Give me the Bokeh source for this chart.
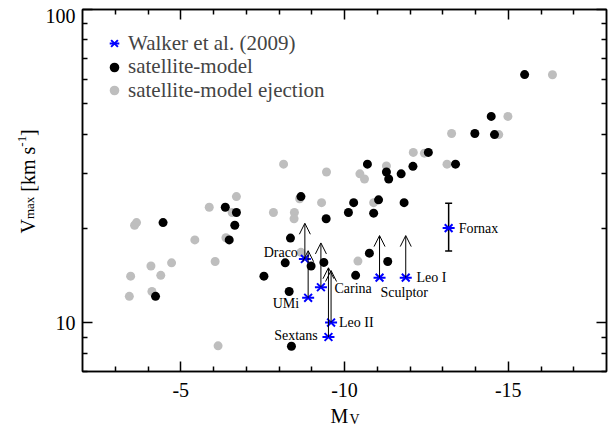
import math
from bokeh.plotting import figure
from bokeh.models import (Range1d, LinearAxis, LogAxis, FixedTicker, Label, Arrow, OpenHead,
                          Whisker, TeeHead, ColumnDataSource, Legend, LegendItem,
                          CustomJSTickFormatter)
from bokeh.core.properties import value
from bokeh.embed import file_html
from bokeh.resources import INLINE

# ---------------- data ----------------
sat_mv = [-15.50, -14.48, -13.98, -14.58, -12.56, -10.70, -13.39, -11.28, -11.35, -11.73,
          -12.09, -10.28, -11.04, -11.82, -10.12, -10.89, -10.76, -11.32, -8.67, -6.36,
          -6.70, -6.65, -4.46, -6.48, -8.35, -9.44, -8.98, -8.19, -9.37, -7.54,
          -8.31, -4.23, -8.38, -10.34]
sat_vmax = [62.0, 45.6, 40.2, 39.9, 35.0, 32.1, 32.1, 30.3, 28.8, 29.9,
            31.6, 24.2, 24.7, 24.2, 22.5, 22.4, 16.7, 15.7, 25.3, 23.4,
            22.5, 20.5, 20.9, 18.4, 18.65, 21.5, 15.2, 15.55, 15.6, 14.1,
            12.6, 12.16, 8.43, 14.19]

ej_mv = [-16.35, -14.99, -13.27, -14.71, -12.10, -12.44, -11.28, -13.13, -10.47, -10.61,
         -8.14, -9.45, -10.89, -6.70, -8.63, -5.87, -6.57, -7.83, -8.47, -8.46,
         -9.30, -3.65, -3.59, -5.43, -6.38, -8.67, -10.41, -6.05, -4.72, -4.09,
         -4.39, -3.47, -3.43, -4.12, -6.14]
ej_vmax = [61.9, 45.6, 40.2, 39.9, 35.0, 34.8, 31.7, 32.1, 29.9, 28.8,
           32.1, 30.3, 24.2, 25.3, 24.9, 23.4, 22.5, 22.5, 22.5, 21.5,
           24.2, 20.9, 20.5, 18.4, 18.7, 16.8, 15.75, 15.7, 15.55, 15.2,
           14.19, 14.1, 12.16, 12.6, 8.45]

dwarf_names = ["Draco", "UMi", "Carina", "Leo II", "Sextans", "Sculptor", "Leo I", "Fornax"]
dwarf_mv = [-8.79, -8.89, -9.28, -9.59, -9.51, -11.07, -11.87, -13.18]
dwarf_vmax = [16.0, 12.03, 13.0, 10.03, 9.02, 13.95, 13.95, 20.07]
# upper arrow tips (Fornax has an error bar instead)
arrow_names = ["Draco", "UMi", "Carina", "Leo II", "Sextans", "Sculptor", "Leo I"]
arrow_tip_vmax = [20.8, 17.0, 18.0, 14.7, 15.0, 19.0, 19.0]
fornax_err_low = [16.95]
fornax_err_high = [24.1]

x_lim = (-2, -18)
y_lim = (7, 100)
x_ticks = [-5, -10, -15]
x_tick_labels = ["-5", "-10", "-15"]
x_minor = [-3, -4, -6, -7, -8, -9, -11, -12, -13, -14, -16, -17]
y_ticks = [10, 100]
y_tick_labels = ["10", "100"]
y_minor = [7, 8, 9, 20, 30, 40, 50, 60, 70, 80, 90]

legend_labels = ["Walker et al. (2009)", "satellite-model", "satellite-model ejection"]

# ---------------- styles ----------------
FONT = "Liberation Serif"
GREY = "#bebebe"
BLUE = "#0000ff"
# label offsets in screen pixels: (dx, dy, align)
label_style = {
    "Draco": (-7, 6.5, "right"),
    "UMi": (-9, -6, "right"),
    "Carina": (13.5, -1.3, "left"),
    "Leo II": (8, 0, "left"),
    "Sextans": (-10.7, 1, "right"),
    "Sculptor": (1, -14.4, "left"),
    "Leo I": (10.7, 0.6, "left"),
    "Fornax": (10, 0, "left"),
}
# legend rows: bottom of each one-row legend box, px above the frame bottom
legend_rows_y = [315.5, 292, 268.5]

p = figure(width=609, height=428, x_range=Range1d(*x_lim), y_range=Range1d(*y_lim),
           y_axis_type="log", output_backend="svg", toolbar_location=None, title=None,
           min_border_left=82, min_border_right=3, min_border_top=9, min_border_bottom=57)
p.xgrid.visible = False
p.ygrid.visible = False
p.outline_line_color = "black"
p.outline_line_width = 1.5
p.background_fill_color = "white"
p.border_fill_color = "white"

xticker = FixedTicker(ticks=x_ticks, minor_ticks=x_minor)
yticker = FixedTicker(ticks=y_ticks, minor_ticks=y_minor)

def style_axis(ax):
    ax.axis_line_width = 1.5
    ax.axis_line_color = "black"
    ax.major_tick_in = 10
    ax.major_tick_out = 0
    ax.minor_tick_in = 5
    ax.minor_tick_out = 0
    ax.major_tick_line_width = 1.5
    ax.minor_tick_line_width = 1.5
    ax.major_tick_line_color = "black"
    ax.minor_tick_line_color = "black"
    ax.major_label_text_font = FONT
    ax.major_label_text_font_size = "20px"
    ax.major_label_text_color = "black"

empty = CustomJSTickFormatter(code="return ''")

xa = p.xaxis[0]
xa.ticker = xticker
xa.major_label_overrides = dict(zip(x_ticks, x_tick_labels))
xa.major_label_standoff = 11
style_axis(xa)

ya = p.yaxis[0]
ya.ticker = yticker
ya.formatter = empty
ya.major_label_standoff = 0
style_axis(ya)
ya.major_label_text_font_size = "1px"

xt = LinearAxis(ticker=xticker, formatter=empty, major_label_standoff=0)
style_axis(xt)
xt.major_label_text_font_size = "1px"
p.add_layout(xt, "above")
yr = LogAxis(ticker=yticker, formatter=empty, major_label_standoff=0)
style_axis(yr)
yr.major_label_text_font_size = "1px"
p.add_layout(yr, "right")

# points
r_grey = p.scatter(ej_mv, ej_vmax, size=9, color=GREY, line_color=None)
r_black = p.scatter(sat_mv, sat_vmax, size=9, color="black", line_color=None)

# arrows
amv = [dwarf_mv[dwarf_names.index(n)] for n in arrow_names]
avm = [dwarf_vmax[dwarf_names.index(n)] for n in arrow_names]
asrc = ColumnDataSource(dict(x0=amv, y0=avm, x1=amv, y1=arrow_tip_vmax))
p.add_layout(Arrow(source=asrc, x_start="x0", y_start="y0", x_end="x1", y_end="y1",
                   line_color="black", line_width=1,
                   end=OpenHead(size=11, line_color="black", line_width=1)))

# Fornax error bar
fi = dwarf_names.index("Fornax")
wsrc = ColumnDataSource(dict(base=[dwarf_mv[fi]], lower=fornax_err_low, upper=fornax_err_high))
p.add_layout(Whisker(source=wsrc, base="base", lower="lower", upper="upper", dimension="height",
                     line_color="black", line_width=1.5,
                     upper_head=TeeHead(size=7, line_color="black", line_width=1.5),
                     lower_head=TeeHead(size=7, line_color="black", line_width=1.5)))

# Walker stars
r_sx = p.scatter(dwarf_mv, dwarf_vmax, marker="x", size=11, line_color=BLUE, line_width=2)
r_sd = p.scatter(dwarf_mv, dwarf_vmax, marker="dash", size=12, line_color=BLUE, line_width=2)

for n, mv, vm in zip(dwarf_names, dwarf_mv, dwarf_vmax):
    dx, dy, al = label_style[n]
    p.add_layout(Label(x=mv, y=vm, x_offset=dx, y_offset=dy, text=n, text_align=al,
                       text_baseline="middle", text_font=FONT, text_font_size="14px",
                       text_color="black"))

# legend: one row per legend box so the row pitch matches the reference
for lab, rends, ly in zip(legend_labels, [[r_sx, r_sd], [r_black], [r_grey]], legend_rows_y):
    lg = Legend(items=[LegendItem(label=lab, renderers=rends)],
                location=(20, ly), glyph_width=24, glyph_height=24, label_height=20,
                spacing=0, padding=0, margin=0, label_standoff=2,
                label_text_font=FONT, label_text_font_size="21px",
                border_line_color=None, background_fill_alpha=0)
    p.add_layout(lg)

# y tick labels (drawn as text so that the top one can sit inside the window)
p.text(x=[x_lim[0]] * len(y_ticks), y=y_ticks, text=y_tick_labels,
       x_offset=-7, y_offset=[0, 6.5], text_align="right", text_baseline="middle",
       text_font=value(FONT), text_font_size=value("20px"), text_color="black",
       level="overlay")

# axis titles built from pieces, anchored at the frame's lower-left corner
def piece(text, dx, dy, size, angle=0.0):
    p.text(x=[x_lim[0]], y=[y_lim[0]], text=[text], x_offset=dx, y_offset=dy, angle=angle,
           text_align="left", text_baseline="alphabetic", text_font=value(FONT),
           text_font_size=value(size), text_color="black", level="overlay")

piece("M", 248, 44, "20px")
piece("V", 267, 47.5, "14px")
A = math.pi / 2
piece("V", -55, -138, "20px", A)
piece("max", -53.5, -152.4, "13px", A)
piece("[km s", -55, -179.8, "20px", A)
piece("-1", -61, -224.8, "13px", A)
piece("]", -55, -235.6, "20px", A)

open("out.html", "w").write(file_html(p, INLINE))
